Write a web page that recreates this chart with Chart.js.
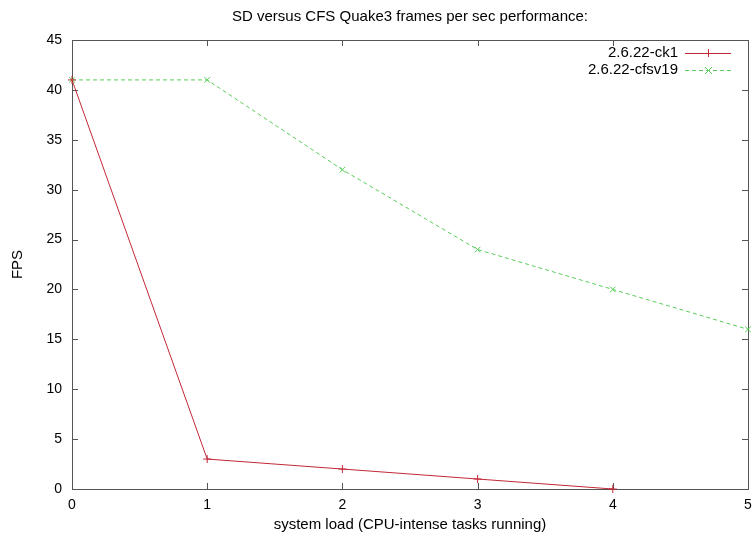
<!DOCTYPE html>
<html>
  <head>
    <title>SD versus CFS</title>
    <script src="https://cdn.jsdelivr.net/npm/chart.js"></script>
    <style>
      body { margin: 0; background: #fff; }
    </style>
  </head>
  <body>
    <canvas id="fpsChart" width="752" height="537"></canvas>
    <script>
      // values
      const loads = [0, 1, 2, 3, 4, 5];
      const ck1Fps = [41, 3, 2, 1, 0];
      const cfsFps = [41, 41, 32, 24, 20, 16];
      const seriesNames = ["2.6.22-ck1", "2.6.22-cfsv19"];
      const yTicks = [0, 5, 10, 15, 20, 25, 30, 35, 40, 45];

      const FONT = "'Liberation Sans', Arial, sans-serif";
      const red = "rgb(195, 40, 55)";
      const green = "rgb(90, 205, 90)";

      // gnuplot style box, inward ticks and legend
      const gnuplotFrame = {
        id: "gnuplotFrame",
        beforeDatasetsDraw(chart) {
          const { ctx, chartArea: a, scales } = chart;
          ctx.save();
          ctx.strokeStyle = "#555";
          ctx.lineWidth = 1;
          ctx.strokeRect(a.left + 0.5, a.top + 0.5, a.right - a.left, a.bottom - a.top);
          ctx.beginPath();
          yTicks.forEach((v) => {
            const y = Math.round(scales.y.getPixelForValue(v)) + 0.5;
            ctx.moveTo(a.left, y); ctx.lineTo(a.left + 6, y);
            ctx.moveTo(a.right, y); ctx.lineTo(a.right - 6, y);
          });
          loads.forEach((v) => {
            const x = Math.round(scales.x.getPixelForValue(v)) + 0.5;
            ctx.moveTo(x, a.bottom); ctx.lineTo(x, a.bottom - 6);
            ctx.moveTo(x, a.top); ctx.lineTo(x, a.top + 6);
          });
          ctx.stroke();
          ctx.restore();
        },
        afterDraw(chart) {
          const { ctx } = chart;
          ctx.save();
          ctx.font = "15px " + FONT;
          ctx.textAlign = "right";
          ctx.textBaseline = "middle";
          chart.data.datasets.forEach((ds, i) => {
            const y = 53 + i * 17;
            ctx.fillStyle = "#000";
            ctx.fillText(ds.label, 678, y);
            ctx.strokeStyle = ds.borderColor;
            ctx.lineWidth = 1;
            ctx.setLineDash(ds.borderDash || []);
            ctx.beginPath();
            ctx.moveTo(685, y + 0.5); ctx.lineTo(731, y + 0.5);
            ctx.stroke();
            ctx.setLineDash([]);
            ctx.beginPath();
            if (i === 0) {
              ctx.moveTo(708.5, y - 4); ctx.lineTo(708.5, y + 4);
              ctx.moveTo(704, y + 0.5); ctx.lineTo(713, y + 0.5);
            } else {
              ctx.moveTo(705, y - 3); ctx.lineTo(712, y + 4);
              ctx.moveTo(705, y + 4); ctx.lineTo(712, y - 3);
            }
            ctx.stroke();
          });
          ctx.restore();
        },
      };

      const ctx = document.getElementById("fpsChart").getContext("2d");
      new Chart(ctx, {
        type: "line",
        data: {
          datasets: [
            {
              label: seriesNames[0],
              data: ck1Fps.map((v, i) => ({ x: loads[i], y: v })),
              borderColor: red,
              backgroundColor: red,
              borderWidth: 1,
              pointStyle: "cross",
              pointRadius: 4,
              pointBorderWidth: 1,
              fill: false,
              tension: 0,
              clip: false,
            },
            {
              label: seriesNames[1],
              data: cfsFps.map((v, i) => ({ x: loads[i], y: v })),
              borderColor: green,
              backgroundColor: green,
              borderWidth: 1,
              borderDash: [4, 3],
              pointStyle: "crossRot",
              pointRadius: 4,
              pointBorderWidth: 1,
              fill: false,
              tension: 0,
              clip: false,
            },
          ],
        },
        options: {
          responsive: false,
          animation: false,
          events: [],
          layout: { padding: { top: 0, right: 4, bottom: 0, left: 0 }, autoPadding: false },
          plugins: {
            legend: { display: false },
            tooltip: { enabled: false },
            title: {
              display: true,
              fullSize: false,
              text: "SD versus CFS Quake3 frames per sec performance:",
              color: "#000",
              font: { family: FONT, size: 15, weight: "normal" },
              padding: { top: 8, bottom: 14 },
            },
          },
          scales: {
            x: {
              type: "linear",
              min: 0,
              max: 5,
              afterFit: (s) => { s.height = 48; s.paddingLeft = 0; s.paddingRight = 0; },
              afterBuildTicks: (s) => { s.ticks = loads.map((v) => ({ value: v })); },
              grid: { display: false, drawTicks: false },
              border: { display: false },
              ticks: { color: "#000", padding: 8, maxRotation: 0, font: { family: FONT, size: 14 } },
              title: {
                display: true,
                text: "system load (CPU-intense tasks running)",
                color: "#000",
                font: { family: FONT, size: 15 },
                padding: { top: 0, bottom: 3 },
              },
            },
            y: {
              min: 0,
              max: 45,
              afterFit: (s) => { s.width = 72; s.paddingTop = 0; s.paddingBottom = 0; },
              afterBuildTicks: (s) => { s.ticks = yTicks.map((v) => ({ value: v })); },
              grid: { display: false, drawTicks: false },
              border: { display: false },
              ticks: { color: "#000", padding: 10, font: { family: FONT, size: 14 } },
              title: {
                display: true,
                text: "FPS",
                color: "#000",
                font: { family: FONT, size: 15 },
                padding: { top: 9, bottom: 0 },
              },
            },
          },
        },
        plugins: [gnuplotFrame],
      });
    </script>
  </body>
</html>
